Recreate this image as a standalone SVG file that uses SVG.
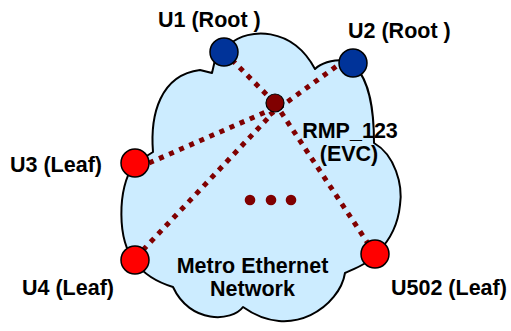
<svg xmlns="http://www.w3.org/2000/svg" width="511" height="331" viewBox="0 0 511 331">
<style>
.lbl{font-family:"Liberation Sans",Arial,sans-serif;font-weight:bold;font-size:21.5px;fill:#000}
.link{stroke:#800000;stroke-width:5;stroke-dasharray:5 6;fill:none}
.root{fill:#003399;stroke:#000;stroke-width:1.5}
.leaf{fill:#FF0000;stroke:#000;stroke-width:1.5}
</style>
<rect width="511" height="331" fill="#fff"/>
<g id="cloud">
<path d="M215,60 L230,44 C248,28 292,26 315,69 C322,62 332,60 345,60 L355,66 C370,82 374,110 374,143 C395,155 403,185 400,205 C398,225 390,240 378,252 C368,264 356,268 345,273 C340,305 292,342 243,307 C232,322 190,324 173,287 C160,283 145,276 135,262 C117,240 117,190 134,164 L153,152 C150,115 160,75 200,70 L212,73 Z" fill="#CCECFF" stroke="#000" stroke-width="2" stroke-linejoin="round"/>
<text class="lbl" x="252.5" y="272.5" text-anchor="middle">Metro Ethernet</text>
<text class="lbl" x="252.5" y="296" text-anchor="middle">Network</text>
</g>
<g id="connectors">
<line class="link" x1="224" y1="52" x2="275" y2="103"/>
<line class="link" x1="275" y1="103" x2="375" y2="254"/>
<line class="link" x1="345" y1="60" x2="268" y2="116"/>
<line class="link" x1="149" y1="163" x2="268" y2="111"/>
<line class="link" x1="143" y1="250" x2="270" y2="116"/>
</g>
<g id="ellipsis">
<circle cx="250" cy="200" r="5.3" fill="#800000"/>
<circle cx="271" cy="200" r="5.3" fill="#800000"/>
<circle cx="291" cy="200" r="5.3" fill="#800000"/>
</g>
<g id="rmp">
<circle cx="275" cy="103" r="9" fill="#800000" stroke="#000" stroke-width="1.2"/>
<text class="lbl" x="350" y="137.5" text-anchor="middle">RMP_123</text>
<text class="lbl" x="349" y="161" text-anchor="middle">(EVC)</text>
</g>
<g id="u1">
<circle class="root" cx="224" cy="52" r="14"/>
<text class="lbl" x="158" y="27">U1 (Root )</text>
</g>
<g id="u2">
<circle class="root" cx="353" cy="63" r="14"/>
<text class="lbl" x="348" y="38">U2 (Root )</text>
</g>
<g id="u3">
<circle class="leaf" cx="135" cy="163" r="14"/>
<text class="lbl" x="10" y="172">U3 (Leaf)</text>
</g>
<g id="u4">
<circle class="leaf" cx="135" cy="260" r="14"/>
<text class="lbl" x="22" y="295">U4 (Leaf)</text>
</g>
<g id="u502">
<circle class="leaf" cx="375" cy="254" r="14"/>
<text class="lbl" x="391" y="295">U502 (Leaf)</text>
</g>
</svg>
